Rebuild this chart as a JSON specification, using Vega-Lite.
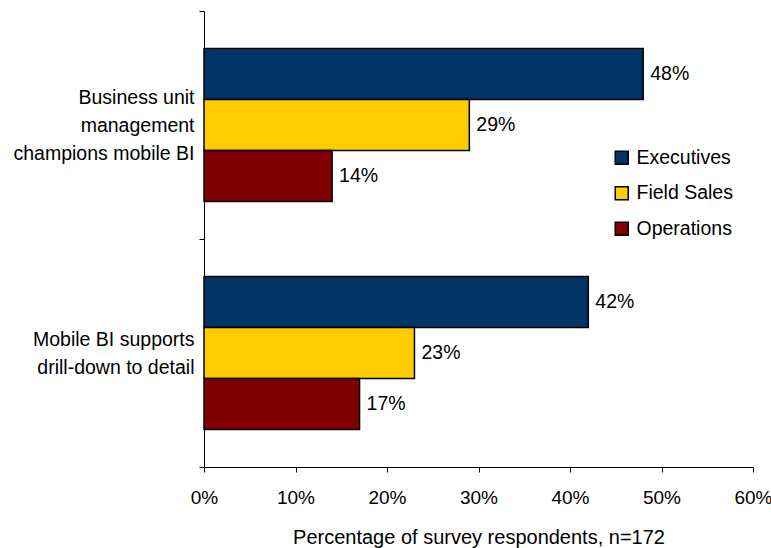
{
  "$schema": "https://vega.github.io/schema/vega-lite/v6.json",
  "width": 549,
  "height": 456,
  "padding": {"left": 12, "top": 1, "right": 5, "bottom": 5},
  "background": "white",
  "config": {
    "view": {"stroke": null},
    "font": "Liberation Sans",
    "axis": {"labelFont": "Liberation Sans", "titleFont": "Liberation Sans", "labelColor": "black", "titleColor": "black", "domainColor": "black", "tickColor": "black"},
    "legend": {"labelFont": "Liberation Sans"}
  },
  "data": {
    "values": [
      {"statement": "Business unit management champions mobile BI", "role": "Executives", "value": 0.48},
      {"statement": "Business unit management champions mobile BI", "role": "Field Sales", "value": 0.29},
      {"statement": "Business unit management champions mobile BI", "role": "Operations", "value": 0.14},
      {"statement": "Mobile BI supports drill-down to detail", "role": "Executives", "value": 0.42},
      {"statement": "Mobile BI supports drill-down to detail", "role": "Field Sales", "value": 0.23},
      {"statement": "Mobile BI supports drill-down to detail", "role": "Operations", "value": 0.17}
    ]
  },
  "encoding": {
    "y": {
      "field": "statement",
      "type": "nominal",
      "sort": ["Business unit management champions mobile BI", "Mobile BI supports drill-down to detail"],
      "scale": {"paddingInner": 0, "paddingOuter": 0},
      "axis": {
        "title": null,
        "tickBand": "extent",
        "tickSize": 5,
        "labelFontSize": 19.5,
        "labelAlign": "right",
        "labelPadding": 5,
        "labelLineHeight": 28,
        "labelLimit": 300,
        "labelOffset": {
          "condition": [
            {"test": "datum.value == 'Business unit management champions mobile BI'", "value": -28},
            {"test": "datum.value == 'Mobile BI supports drill-down to detail'", "value": -14}
          ],
          "value": 20
        },
        "labelExpr": "datum.label == 'Business unit management champions mobile BI' ? ['Business unit', 'management', 'champions mobile BI'] : datum.label == 'Mobile BI supports drill-down to detail' ? ['Mobile BI supports', 'drill-down to detail'] : ''"
      }
    },
    "yOffset": {
      "field": "role",
      "type": "nominal",
      "sort": ["Executives", "Field Sales", "Operations"],
      "scale": {"paddingInner": 0, "paddingOuter": 0.735}
    },
    "x": {
      "field": "value",
      "type": "quantitative",
      "scale": {"domain": [0, 0.6], "nice": false},
      "axis": {
        "title": "Percentage of survey respondents, n=172",
        "format": ".0%",
        "values": [0, 0.1, 0.2, 0.3, 0.4, 0.5, 0.6],
        "grid": false,
        "tickSize": 5,
        "labelFontSize": 19,
        "labelPadding": 16,
        "titleFontSize": 20,
        "titleFontWeight": "normal",
        "titlePadding": 20,
        "labelFlush": false
      }
    }
  },
  "layer": [
    {
      "mark": {"type": "bar", "stroke": "black", "strokeWidth": 1.5},
      "encoding": {
        "color": {
          "field": "role",
          "type": "nominal",
          "sort": ["Executives", "Field Sales", "Operations"],
          "scale": {"domain": ["Executives", "Field Sales", "Operations"], "range": ["#003366", "#FFCC00", "#800000"]},
          "legend": {
            "title": null,
            "orient": "none",
            "legendX": 408,
            "legendY": 137,
            "symbolType": "square",
            "symbolSize": 169,
            "symbolStrokeColor": "black",
            "symbolStrokeWidth": 1.5,
            "labelFontSize": 19.5,
            "labelColor": "black",
            "rowPadding": 14.5,
            "labelOffset": 5
          }
        }
      }
    },
    {
      "mark": {"type": "text", "align": "left", "dx": 7, "fontSize": 19.5, "color": "black", "font": "Liberation Sans"},
      "encoding": {
        "text": {"field": "value", "type": "quantitative", "format": ".0%"}
      }
    }
  ]
}
